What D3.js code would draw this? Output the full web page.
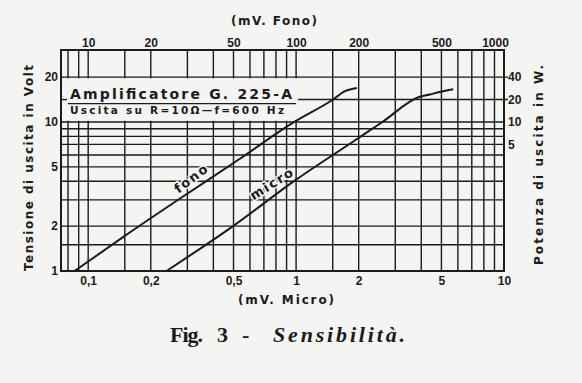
<!DOCTYPE html>
<html>
<head>
<meta charset="utf-8">
<script src="https://cdn.jsdelivr.net/npm/d3@7"></script>
<style>
  body { margin: 0; background: #f4f4f2; }
  svg { display: block; font-family: "DejaVu Sans", sans-serif; }
  .tick text { font-size: 12px; font-weight: bold; fill: #1b1b1b; }
</style>
</head>
<body>
<svg width="582" height="383"></svg>
<script>
// ticks shown on the four axes
var voltTicks = [1, 2, 5, 10, 20];
var wattTicks = [5, 10, 20, 40];
var microTicks = [0.1, 0.2, 0.5, 1, 2, 5, 10];
var fonoTicks = [10, 20, 50, 100, 200, 500, 1000];

// grid (mV micro / Volt)
var vGrid = [0.08, 0.09, 0.1, 0.15, 0.2, 0.3, 0.4, 0.5, 0.6, 0.7, 0.8, 0.9, 1, 1.5, 2, 3, 4, 5, 6, 7, 8, 9, 10];
var hGrid = [1, 1.5, 2, 3, 4, 5, 6, 7.07, 8, 9, 10, 14.14, 20];

// curves
var fonoMv = [8.6, 15, 28, 53, 98, 150, 172, 196];
var fonoV = [1.0, 1.72, 3.1, 5.6, 10, 14.1, 16.1, 16.9];
var microMv = [0.238, 0.49, 1.0, 1.94, 2.6, 3.9, 4.4, 4.9, 5.7];
var microV = [1.0, 1.97, 4.1, 7.6, 10, 14.7, 15.3, 15.9, 16.6];

var svg = d3.select("svg");
var pL = 61, pR = 504, pT = 50, pB = 271;

var x = d3.scaleLog().domain([0.074, 10]).range([pL, pR]);
var xFono = d3.scaleLog().domain([7.4, 1000]).range([pL, pR]);
var y = d3.scaleLog().domain([1, 30.4]).range([pB, pT]);
// P = V^2 / 10 ohm
var yW = d3.scaleLog().domain([0.1, 30.4 * 30.4 / 10]).range([pB, pT]);

var ink = "#1b1b1b";
var paper = "#f4f4f2";
var g = svg.append("g");

// vertical grid
g.selectAll(".vg")
    .data(vGrid)
    .enter().append("line")
    .attr("x1", function (d) { return x(d); })
    .attr("x2", function (d) { return x(d); })
    .attr("y1", pT)
    .attr("y2", pB)
    .attr("stroke", ink)
    .attr("stroke-width", 1.4);

// horizontal grid (20 V / 40 W and 14 V / 20 W stick out on the right)
g.selectAll(".hg")
    .data(hGrid)
    .enter().append("line")
    .attr("x1", pL)
    .attr("x2", function (d) { return d > 12 ? pR + 4 : pR; })
    .attr("y1", function (d) { return y(d); })
    .attr("y2", function (d) { return y(d); })
    .attr("stroke", ink)
    .attr("stroke-width", 1.4);

// blank box for the heading
g.append("rect")
    .attr("x", pL + 1)
    .attr("y", y(20) + 1.2)
    .attr("width", x(1) + 2 - pL - 1)
    .attr("height", y(10) - y(20) - 2.4)
    .attr("fill", paper);
g.append("line")
    .attr("x1", pL).attr("x2", pL + 6)
    .attr("y1", y(14.14)).attr("y2", y(14.14))
    .attr("stroke", ink).attr("stroke-width", 1.4);

g.append("text")
    .attr("x", pL + 9)
    .attr("y", y(14.14) - 1)
    .attr("font-size", 14)
    .attr("font-weight", "bold")
    .attr("fill", ink)
    .attr("textLength", 222)
    .text("Amplificatore G. 225-A");
g.append("line")
    .attr("x1", pL + 7).attr("x2", x(1))
    .attr("y1", y(14.14) + 4).attr("y2", y(14.14) + 4)
    .attr("stroke", ink).attr("stroke-width", 1.3);
g.append("text")
    .attr("x", pL + 9)
    .attr("y", y(10) - 8)
    .attr("font-size", 10.5)
    .attr("font-weight", "bold")
    .attr("fill", ink)
    .attr("textLength", 214)
    .text("Uscita su R=10Ω—f=600 Hz");

// frame
g.append("rect")
    .attr("x", pL)
    .attr("y", pT)
    .attr("width", pR - pL)
    .attr("height", pB - pT)
    .attr("fill", "none")
    .attr("stroke", ink)
    .attr("stroke-width", 2);

// curves
var fonoLine = d3.line()
    .x(function (d) { return xFono(d[0]); })
    .y(function (d) { return y(d[1]); })
    .curve(d3.curveMonotoneX);
var microLine = d3.line()
    .x(function (d) { return x(d[0]); })
    .y(function (d) { return y(d[1]); })
    .curve(d3.curveMonotoneX);

g.append("path")
    .datum(d3.zip(fonoMv, fonoV))
    .attr("d", fonoLine)
    .attr("fill", "none").attr("stroke", ink).attr("stroke-width", 2);
g.append("path")
    .datum(d3.zip(microMv, microV))
    .attr("d", microLine)
    .attr("fill", "none").attr("stroke", ink).attr("stroke-width", 2);

// curve labels
function curveLabel(sx, mv, v, at, label, len) {
    var f = d3.scaleLog().domain(mv).range(v);
    var x0 = sx(at / 1.1), x1 = sx(at * 1.1);
    var y0 = y(f(at / 1.1)), y1 = y(f(at * 1.1));
    var ang = Math.atan2(y1 - y0, x1 - x0) * 180 / Math.PI;
    g.append("text")
        .attr("transform", "translate(" + sx(at) + "," + y(f(at)) + ") rotate(" + ang + ")")
        .attr("y", -4)
        .attr("text-anchor", "middle")
        .attr("font-size", 13)
        .attr("font-weight", "bold")
        .attr("fill", ink)
        .attr("stroke", paper)
        .attr("stroke-width", 3)
        .attr("paint-order", "stroke")
        .attr("textLength", len)
        .text(label);
}
curveLabel(xFono, fonoMv, fonoV, 33, "fono", 38);
curveLabel(x, microMv, microV, 0.8, "micro", 48);

// axes
function comma(d) { return String(d).replace(".", ","); }

svg.append("g")
    .attr("transform", "translate(" + (pL - 3) + ",0)")
    .call(d3.axisLeft(y).tickValues(voltTicks).tickSize(0).tickPadding(0).tickFormat(d3.format("d")))
    .call(function (a) { a.select(".domain").remove(); });

svg.append("g")
    .attr("transform", "translate(" + (pR + 4) + ",0)")
    .call(d3.axisRight(yW).tickValues(wattTicks).tickSize(0).tickPadding(0).tickFormat(d3.format("d")))
    .call(function (a) { a.select(".domain").remove(); });

svg.append("g")
    .attr("transform", "translate(0," + (pB + 3) + ")")
    .call(d3.axisBottom(x).tickValues(microTicks).tickSize(0).tickPadding(2).tickFormat(comma))
    .call(function (a) { a.select(".domain").remove(); });

var topAxis = svg.append("g")
    .attr("transform", "translate(0," + (pT - 2) + ")")
    .call(d3.axisTop(xFono).tickValues(fonoTicks).tickSize(0).tickPadding(1).tickFormat(d3.format("d")))
    .call(function (a) { a.select(".domain").remove(); });
topAxis.selectAll(".tick text")
    .filter(function (d) { return d === 1000; })
    .attr("dx", -9);

svg.selectAll(".tick text").attr("font-family", null).attr("font-size", null).attr("fill", null);

// axis titles
svg.append("text")
    .attr("x", 274).attr("y", 25)
    .attr("text-anchor", "middle")
    .attr("font-size", 12).attr("font-weight", "bold").attr("fill", ink)
    .attr("textLength", 86)
    .text("(mV. Fono)");
svg.append("text")
    .attr("x", 286).attr("y", 304)
    .attr("text-anchor", "middle")
    .attr("font-size", 12).attr("font-weight", "bold").attr("fill", ink)
    .attr("textLength", 96)
    .text("(mV. Micro)");
svg.append("text")
    .attr("transform", "translate(33,168) rotate(-90)")
    .attr("text-anchor", "middle")
    .attr("font-size", 12).attr("font-weight", "bold").attr("fill", ink)
    .attr("textLength", 206)
    .text("Tensione di uscita in Volt");
svg.append("text")
    .attr("transform", "translate(543,165) rotate(-90)")
    .attr("text-anchor", "middle")
    .attr("font-size", 12).attr("font-weight", "bold").attr("fill", ink)
    .attr("textLength", 200)
    .text("Potenza di uscita in W.");

// caption
var cap = svg.append("text")
    .attr("y", 342)
    .attr("font-family", "'Liberation Serif', serif")
    .attr("font-size", 22).attr("fill", ink);
cap.append("tspan").attr("x", 170).attr("font-weight", "bold").attr("textLength", 33).text("Fig.");
cap.append("tspan").attr("x", 217).attr("font-weight", "bold").text("3");
cap.append("tspan").attr("x", 242).attr("font-weight", "bold").text("-");
cap.append("tspan").attr("x", 273).attr("font-style", "italic").attr("font-weight", "bold")
    .attr("textLength", 132).text("Sensibilità.");
</script>
</body>
</html>
